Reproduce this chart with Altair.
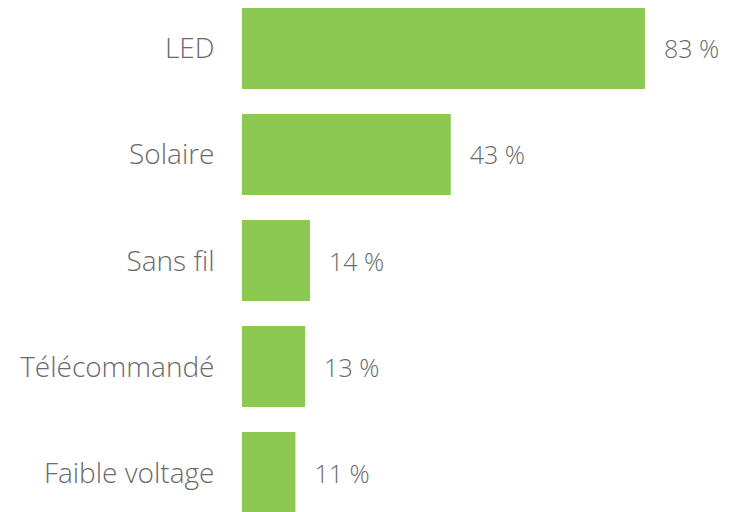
import altair as alt
import pandas as pd

categories = ["LED", "Solaire", "Sans fil", "Télécommandé", "Faible voltage"]
values = [83, 43, 14, 13, 11]
labels = ["83 %", "43 %", "14 %", "13 %", "11 %"]

df = pd.DataFrame({"cat": categories, "val": values, "lab": labels})

FONT = "Open Sans"
GRAY = "#6a6a6a"
FS = 28

y = alt.Y("cat:N", sort=categories,
          scale=alt.Scale(paddingInner=0.236, paddingOuter=0),
          axis=alt.Axis(title=None, domain=False, ticks=False, labelPadding=28,
                        labelFont=FONT, labelFontSize=FS, labelFontWeight=300,
                        labelColor=GRAY, labelOffset=2, labelLimit=0))
x = alt.X("val:Q", scale=alt.Scale(domain=[0, 98.66], nice=False, zero=True), axis=None)

bars = alt.Chart(df).mark_bar(color="#8BC953").encode(x=x, y=y)
text = alt.Chart(df).mark_text(align="left", baseline="middle", dx=19, dy=2, font=FONT,
                               fontSize=25, fontWeight=300, color=GRAY).encode(
    x=x, y=y, text="lab:N")

chart = (bars + text).properties(
    width=479, height=505,
    autosize=alt.AutoSizeParams(type="none"),
    padding={"left": 234, "top": 0, "right": 0, "bottom": 0},
).configure_view(stroke=None)

chart.save("out.html", embed_options={"renderer": "svg", "actions": False})
